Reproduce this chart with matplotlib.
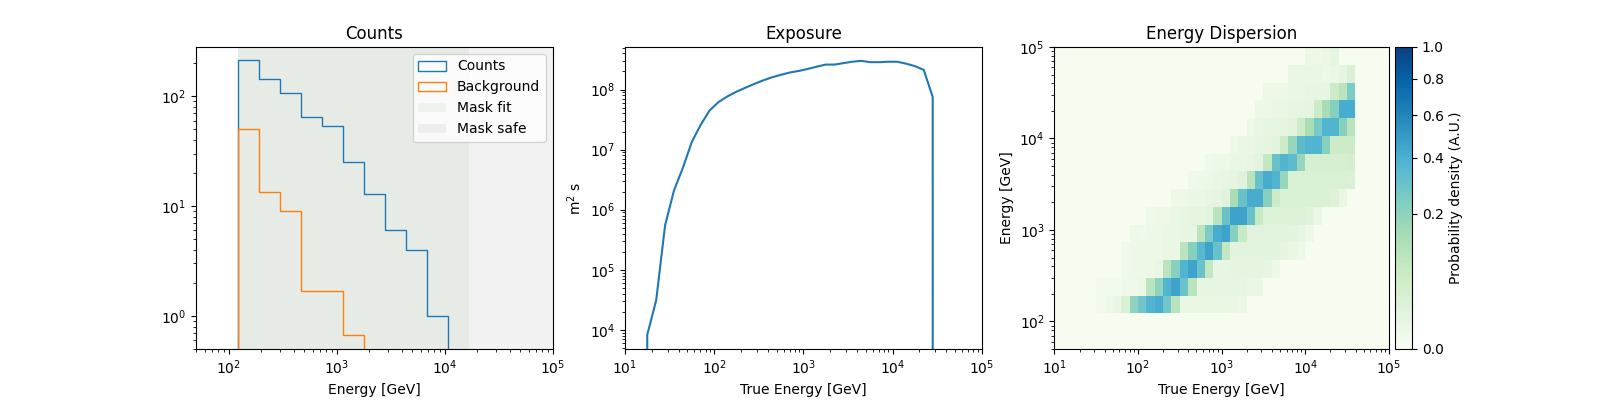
import matplotlib

matplotlib.use("Agg")
import matplotlib.pyplot as plt
import numpy as np
from matplotlib.colors import PowerNorm

# reco energy axis: 17 log bins from 50 GeV to 100 TeV
reco_edges = np.logspace(np.log10(50), 5, 18)
# true energy axis: 40 log bins from 10 GeV to 100 TeV
true_edges = np.logspace(1, 5, 41)

# counts / background per reco bin (starting at bin 2)
counts = [213, 144, 106, 65, 54, 25, 13, 6, 4, 1]
background = [50, 13.3, 9, 1.67, 1.67, 0.67]
first_bin = 2
mask_fit_bins = (2, 13)
mask_safe_bins = (2, 17)

# exposure at true bin centres 10^1.25 ... 10^4.45, then zero
exposure = [
    8.3e3, 3.1e4, 5.5e5, 2.1e6, 5.0e6, 1.35e7, 2.6e7, 4.5e7, 6.2e7, 7.7e7,
    9.2e7, 1.07e8, 1.24e8, 1.42e8, 1.6e8, 1.76e8, 1.92e8, 2.04e8, 2.2e8, 2.4e8,
    2.6e8, 2.6e8, 2.75e8, 2.9e8, 3.0e8, 2.85e8, 2.85e8, 2.9e8, 2.9e8, 2.7e8,
    2.45e8, 2.12e8, 7.5e7,
]
exposure_first_bin = 2

# energy dispersion rows: reco bin -> (first true bin, values)
edisp_rows = {
    2: (5, [0.001, 0.002, 0.004, 0.03, 0.2, 0.28, 0.38, 0.42, 0.28, 0.1,
            0.006, 0.006, 0.006, 0.006, 0.006, 0.006, 0.004, 0.003]),
    3: (5, [0.001, 0.001, 0.001, 0.002, 0.002, 0.004, 0.1, 0.2, 0.38, 0.46, 0.3, 0.1,
            0.008, 0.008, 0.008, 0.008, 0.008, 0.008, 0.006, 0.004]),
    4: (8, [0.002, 0.003, 0.003, 0.003, 0.004, 0.1, 0.22, 0.38, 0.46, 0.3, 0.08,
            0.008, 0.008, 0.01, 0.01, 0.01, 0.01, 0.008, 0.003]),
    5: (8, [0.002, 0.003, 0.003, 0.003, 0.003, 0.004, 0.005, 0.1, 0.22, 0.36, 0.46, 0.3,
            0.08, 0.012, 0.012, 0.012, 0.012, 0.012, 0.012, 0.01, 0.006, 0.003]),
    6: (9, [0.003, 0.002, 0.003, 0.003, 0.005, 0.005, 0.008, 0.008, 0.1, 0.25, 0.42, 0.46,
            0.22, 0.07, 0.015, 0.015, 0.015, 0.015, 0.015, 0.012, 0.008, 0.003]),
    7: (11, [0.002, 0.003, 0.003, 0.005, 0.008, 0.01, 0.01, 0.012, 0.1, 0.3, 0.46, 0.46,
             0.3, 0.07, 0.02, 0.02, 0.02, 0.02, 0.02, 0.015, 0.005]),
    8: (14, [0.003, 0.003, 0.005, 0.005, 0.008, 0.01, 0.015, 0.14, 0.3, 0.42, 0.42,
             0.22, 0.06, 0.025, 0.025, 0.025, 0.025, 0.025, 0.025, 0.02, 0.006]),
    9: (16, [0.002, 0.003, 0.003, 0.005, 0.008, 0.01, 0.015, 0.1, 0.3, 0.42, 0.38, 0.18,
             0.03, 0.03, 0.03, 0.03, 0.03, 0.03, 0.03, 0.025]),
    10: (18, [0.002, 0.003, 0.003, 0.005, 0.005, 0.008, 0.012, 0.08, 0.3, 0.38, 0.34,
              0.18, 0.035, 0.035, 0.035, 0.035, 0.035, 0.04]),
    11: (21, [0.003, 0.005, 0.005, 0.008, 0.01, 0.015, 0.06, 0.18, 0.34, 0.38, 0.38,
              0.22, 0.06, 0.06, 0.06]),
    12: (23, [0.003, 0.005, 0.008, 0.008, 0.01, 0.015, 0.06, 0.14, 0.26, 0.38, 0.38,
              0.22, 0.1]),
    13: (24, [0.003, 0.003, 0.005, 0.005, 0.008, 0.008, 0.01, 0.06, 0.14, 0.22, 0.42,
              0.42]),
    14: (25, [0.003, 0.003, 0.003, 0.005, 0.005, 0.008, 0.008, 0.008, 0.06, 0.1, 0.25]),
    15: (28, [0.005, 0.005, 0.005, 0.005, 0.003, 0.005, 0.01, 0.025]),
    16: (30, [0.003, 0.003, 0.005, 0.01]),
}

BLUE = "#1f77b4"
ORANGE = "#ff7f0e"

fig = plt.figure(figsize=(16, 4), dpi=100)
ax1 = fig.add_axes([0.1225, 0.1275, 0.223, 0.755])
ax2 = fig.add_axes([0.3906, 0.1275, 0.223, 0.755])
ax3 = fig.add_axes([0.659, 0.1275, 0.209, 0.755])
cax = fig.add_axes([0.872, 0.1275, 0.0106, 0.755])

# --- counts ---
centers = np.sqrt(reco_edges[:-1] * reco_edges[1:])
sl = slice(first_bin, first_bin + len(counts))
ax1.hist(centers[sl], bins=reco_edges[first_bin:first_bin + len(counts) + 1],
         weights=counts, histtype="step", color=BLUE, label="Counts")
sl = slice(first_bin, first_bin + len(background))
ax1.hist(centers[sl], bins=reco_edges[first_bin:first_bin + len(background) + 1],
         weights=background, histtype="step", color=ORANGE, label="Background")
ax1.axvspan(reco_edges[mask_fit_bins[0]], reco_edges[mask_fit_bins[1]],
            color="green", alpha=0.05, lw=0, label="Mask fit")
ax1.axvspan(reco_edges[mask_safe_bins[0]], reco_edges[mask_safe_bins[1]],
            color="grey", alpha=0.1, lw=0, label="Mask safe")
ax1.set_xscale("log")
ax1.set_yscale("log")
ax1.set_xlim(50, 1e5)
ax1.set_ylim(0.5, 280)
ax1.set_xlabel("Energy [GeV]")
ax1.set_title("Counts")
ax1.legend(loc="upper right")

# --- exposure ---
true_centers = np.sqrt(true_edges[:-1] * true_edges[1:])
x = true_centers[exposure_first_bin - 1:exposure_first_bin + len(exposure) + 1]
y = [0.0] + exposure + [0.0]
ax2.plot(x, y, color=BLUE)
ax2.set_xscale("log")
ax2.set_yscale("log", nonpositive="clip")
ax2.set_xlim(10, 1e5)
ax2.set_ylim(4.8e3, 5.1e8)
ax2.set_xlabel("True Energy [GeV]")
ax2.set_ylabel("m$^2$ s")
ax2.set_title("Exposure")

# --- energy dispersion ---
matrix = np.zeros((len(reco_edges) - 1, len(true_edges) - 1))
for row, (start, vals) in edisp_rows.items():
    matrix[row, start:start + len(vals)] = vals
mesh = ax3.pcolormesh(true_edges, reco_edges, matrix, cmap="GnBu",
                      norm=PowerNorm(gamma=0.5, vmin=0, vmax=1))
ax3.set_xscale("log")
ax3.set_yscale("log")
ax3.set_xlim(10, 1e5)
ax3.set_ylim(50, 1e5)
ax3.set_xlabel("True Energy [GeV]")
ax3.set_ylabel("Energy [GeV]")
ax3.set_title("Energy Dispersion")
cb = fig.colorbar(mesh, cax=cax)
cb.set_ticks([0, 0.2, 0.4, 0.6, 0.8, 1.0])
cb.set_label("Probability density (A.U.)")

fig.savefig("out.png")
